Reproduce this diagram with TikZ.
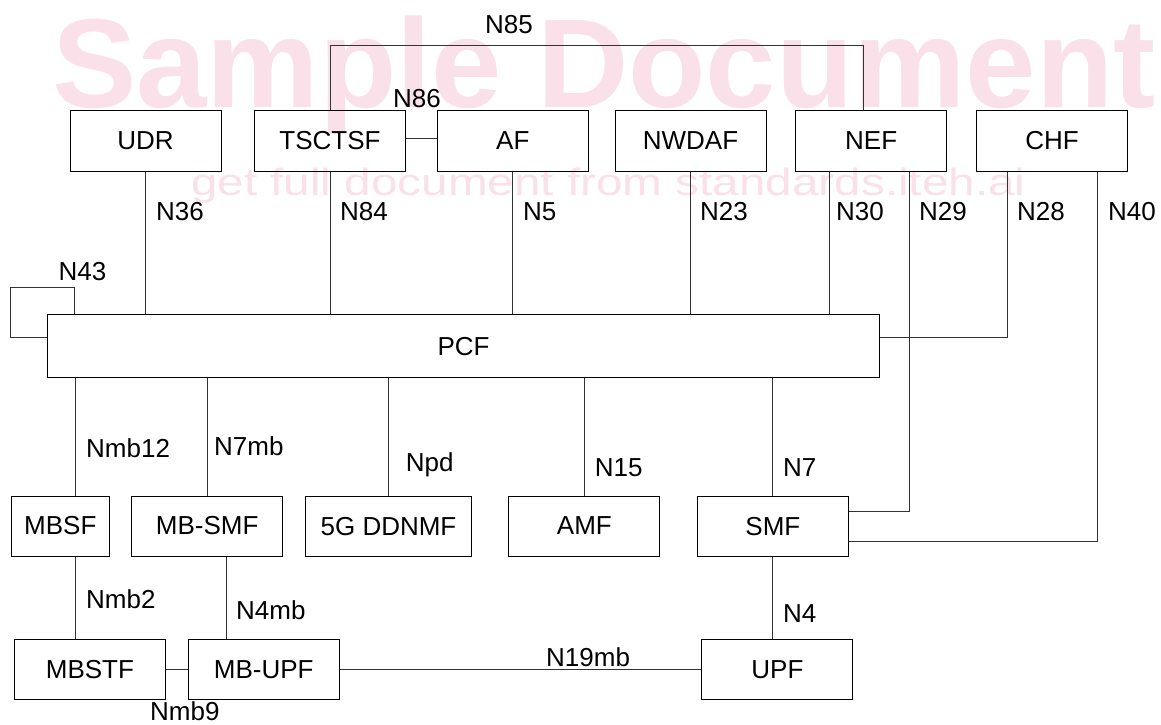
\documentclass[tikz,border=0pt]{standalone}
\usepackage{graphicx}
\usepackage{fontspec}
\setmainfont{Liberation Sans}
\definecolor{wmpink}{RGB}{250,224,233}

\begin{document}
\begin{tikzpicture}[x=1pt,y=-1pt,
    font=\fontsize{26}{31}\selectfont,
    nf/.style={draw,line width=1pt,minimum width=151pt,minimum height=61pt,inner sep=0pt},
    lbl/.style={anchor=base west,inner sep=0pt},
    ln/.style={line width=0.9pt,black!80}]
\useasboundingbox (0,0) rectangle (1161,724);
\node[lbl,text=wmpink,font=\fontsize{126.5}{150}\selectfont\bfseries] (wm1) at (52,107) {Sample Document};
\node[lbl,text=wmpink,font=\fontsize{38}{45}\selectfont] (wm2) at (191,195) {\scalebox{1.254}[1]{get full document from standards.iteh.ai}};

\node[nf] (udr) at (145.5,140.5) {UDR};
\node[nf] (tsctsf) at (330,140.5) {TSCTSF};
\node[nf] (af) at (512.8,140.5) {AF};
\node[nf] (nwdaf) at (690.5,140.5) {NWDAF};
\node[nf] (nef) at (871.2,140.5) {NEF};
\node[nf] (chf) at (1052,140.5) {CHF};
\node[nf,minimum width=831.6pt,minimum height=63pt] (pcf) at (463.6,346.2) {PCF};
\node[nf,minimum width=97.5pt,minimum height=60pt] (mbsf) at (60.3,526) {MBSF};
\node[nf,minimum height=60pt] (mbsmf) at (207.2,526) {MB-SMF};
\node[nf,minimum width=166pt,minimum height=60pt] (ddnmf) at (388.5,526.3) {5G DDNMF};
\node[nf,minimum height=60pt] (amf) at (584.4,526) {AMF};
\node[nf,minimum height=60pt] (smf) at (772.9,526.7) {SMF};
\node[nf,minimum height=60.5pt] (mbstf) at (89.9,669.3) {MBSTF};
\node[nf,minimum height=60.5pt] (mbupf) at (263.8,669.3) {MB-UPF};
\node[nf,minimum height=60.5pt] (upf) at (777.4,669.3) {UPF};

\coordinate (n85top) at (863,45);
\coordinate (n43top) at (10.3,287.3);

\draw[ln] (tsctsf.north) |- (n85top) -- (n85top |- nef.north);
\draw[ln] ([yshift=2.5pt]tsctsf.east) -- ([yshift=2.5pt]af.west);
\foreach \n in {udr,tsctsf,af,nwdaf}
    \draw[ln] (\n.south) -- (\n.south |- pcf.north);
\draw[ln] ([xshift=-42.2pt]nef.south) -- ([xshift=-42.2pt]nef.south |- pcf.north);
\draw[ln] ([xshift=37.8pt]nef.south) |- ([yshift=15.7pt]smf.east);
\draw[ln] ([xshift=-45pt]chf.south) |- ([yshift=9.2pt]pcf.east);
\draw[ln] ([xshift=45pt]chf.south) |- ([yshift=-14.6pt]smf.east);
\draw[ln] ([xshift=27.6pt]pcf.north west) |- (n43top) |- ([yshift=9.2pt]pcf.west);

\draw[ln] ([xshift=15.1pt]mbsf.north) -- ([xshift=15.1pt]mbsf.north |- pcf.south);
\foreach \n in {mbsmf,ddnmf,amf,smf}
    \draw[ln] (\n.north) -- (\n.north |- pcf.south);
\draw[ln] ([xshift=15.1pt]mbsf.south) -- ([xshift=15.1pt]mbsf.south |- mbstf.north);
\draw[ln] ([xshift=19.4pt]mbsmf.south) -- ([xshift=19.4pt]mbsmf.south |- mbupf.north);
\draw[ln] (smf.south) -- (smf.south |- upf.north);
\draw[ln] (mbstf) -- (mbupf);
\draw[ln] (mbupf) -- (upf);

\node[lbl] (l85) at (485,33) {N85};
\node[lbl] (l86) at (393,107) {N86};
\node[lbl] (l36) at (156,220) {N36};
\node[lbl] (l84) at (340,220) {N84};
\node[lbl] (l5) at (523,220) {N5};
\node[lbl] (l23) at (700,220) {N23};
\node[lbl] (l30) at (836,220) {N30};
\node[lbl] (l29) at (919,220) {N29};
\node[lbl] (l28) at (1017,220) {N28};
\node[lbl] (l40) at (1108,220) {N40};
\node[lbl] (l43) at (58.5,280) {N43};
\node[lbl] (lmb12) at (86,457) {Nmb12};
\node[lbl] (l7mb) at (214,455) {N7mb};
\node[lbl] (lpd) at (405.6,471.7) {Npd};
\node[lbl] (l15) at (594.7,476) {N15};
\node[lbl] (l7) at (783,476.7) {N7};
\node[lbl] (lmb2) at (86,608.3) {Nmb2};
\node[lbl] (l4mb) at (236,619.3) {N4mb};
\node[lbl] (l4) at (783,622.7) {N4};
\node[lbl] (l19mb) at (546,666.7) {N19mb};
\node[lbl] (lmb9) at (150,720) {Nmb9};
\end{tikzpicture}
\end{document}
